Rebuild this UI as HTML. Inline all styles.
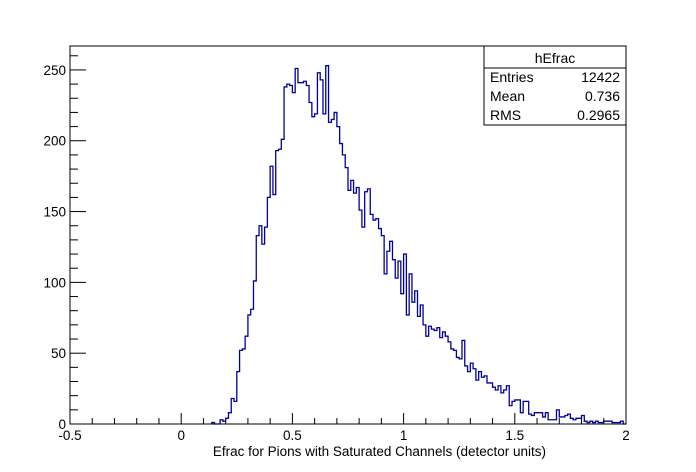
<!DOCTYPE html>
<html><head><meta charset="utf-8"><style>
html,body{margin:0;padding:0;background:#fff;}
svg{display:block;font-family:"Liberation Sans",Arial,sans-serif;}
</style></head><body>
<svg id="chart" width="696" height="472" viewBox="0 0 696 472" xmlns="http://www.w3.org/2000/svg">
<rect x="0" y="0" width="696" height="472" fill="#fff"/>
<g id="ticks"></g>
<path id="hist" fill="none" stroke="#00009c" stroke-width="1.3"/>
<rect x="70" y="46" width="556" height="378" fill="none" stroke="#000" stroke-width="1"/>
<g id="labels" font-size="13.5" fill="#000"></g>
<text x="546" y="456" font-size="13.5" text-anchor="end">Efrac for Pions with Saturated Channels (detector units)</text>
<g>
<rect x="484" y="46" width="142" height="79" fill="#fff" stroke="#000" stroke-width="1"/>
<line x1="484" y1="68" x2="626" y2="68" stroke="#000" stroke-width="1"/>
<text x="555" y="63" font-size="14" text-anchor="middle">hEfrac</text>
<text x="490" y="82" font-size="14">Entries</text>
<text x="620" y="82" font-size="14" text-anchor="end">12422</text>
<text x="490" y="101" font-size="14">Mean</text>
<text x="620" y="101" font-size="14" text-anchor="end">0.736</text>
<text x="490" y="120" font-size="14">RMS</text>
<text x="620" y="120" font-size="14" text-anchor="end">0.2965</text>
</g>
</svg>
<script>
const binWidth = 0.0125;
const firstBinEdge = 0.1375;
const counts = [1,0,0,3,2,4,8,18,16,37,52,53,62,77,81,101,133,140,127,139,160,182,162,193,194,201,238,240,239,234,251,241,
241,242,239,227,217,219,248,243,219,253,213,215,220,210,198,190,181,165,172,163,167,151,139,164,166,148,144,145,138,133,106,122,129,116,103,115,
92,120,77,106,86,94,76,84,70,62,69,67,66,68,61,65,62,58,53,52,47,46,59,41,37,43,39,31,37,33,34,29,29,26,24,27,22,24,27,
13,16,17,17,8,16,16,7,6,8,8,8,5,8,3,3,3,10,5,5,6,7,4,3,4,4,6,2,1,2,1,2,1,1,2,2,2,1,1,1,2,0];
const xTickLabels = ["-0.5","0","0.5","1","1.5","2"];
const xTickValues = [-0.5,0,0.5,1,1.5,2];
const yTickLabels = ["0","50","100","150","200","250"];
const yTickValues = [0,50,100,150,200,250];

const X0=70, X1=626, Y0=424, Y1=46;
const xMin=-0.5, xMax=2, yMax=266.9;
function sx(v){return X0+(v-xMin)/(xMax-xMin)*(X1-X0);}
function sy(v){return Y0-v/yMax*(Y0-Y1);}

let d="M"+sx(firstBinEdge)+","+sy(0);
counts.forEach((c,i)=>{
  const a=sx(firstBinEdge+i*binWidth), b=sx(firstBinEdge+(i+1)*binWidth);
  d+=" L"+a.toFixed(2)+","+sy(c).toFixed(2)+" L"+b.toFixed(2)+","+sy(c).toFixed(2);
});
d+=" L"+sx(firstBinEdge+counts.length*binWidth).toFixed(2)+","+sy(0);
document.getElementById('hist').setAttribute('d',d);

const NS="http://www.w3.org/2000/svg";
const tg=document.getElementById('ticks');
const lg=document.getElementById('labels');
function line(x1,y1,x2,y2,name){
  const l=document.createElementNS(NS,'line');
  l.setAttribute('x1',x1);l.setAttribute('y1',y1);l.setAttribute('x2',x2);l.setAttribute('y2',y2);
  l.setAttribute('stroke','#000');l.setAttribute('stroke-width','1');
  
  
  tg.appendChild(l);
}
for(let k=0;k<=25;k++){
  const v=xMin+k*0.1, x=sx(v);
  line(x,Y0,x,Y0-(k%5===0?11:6),'x-tick');
}
for(let k=0;k*10<=yMax;k++){
  const y=sy(k*10);
  line(X0,y,X0+(k%5===0?16:8),y,'y-tick');
}
xTickValues.forEach((v,i)=>{
  const t=document.createElementNS(NS,'text');
  t.setAttribute('x',sx(v));t.setAttribute('y',440);t.setAttribute('text-anchor','middle');
  t.textContent=xTickLabels[i];
  
  
  lg.appendChild(t);
});
yTickValues.forEach((v,i)=>{
  const t=document.createElementNS(NS,'text');
  t.setAttribute('x',66);t.setAttribute('y',sy(v)+5);t.setAttribute('text-anchor','end');
  t.textContent=yTickLabels[i];
  
  
  lg.appendChild(t);
});
</script>
</body></html>
